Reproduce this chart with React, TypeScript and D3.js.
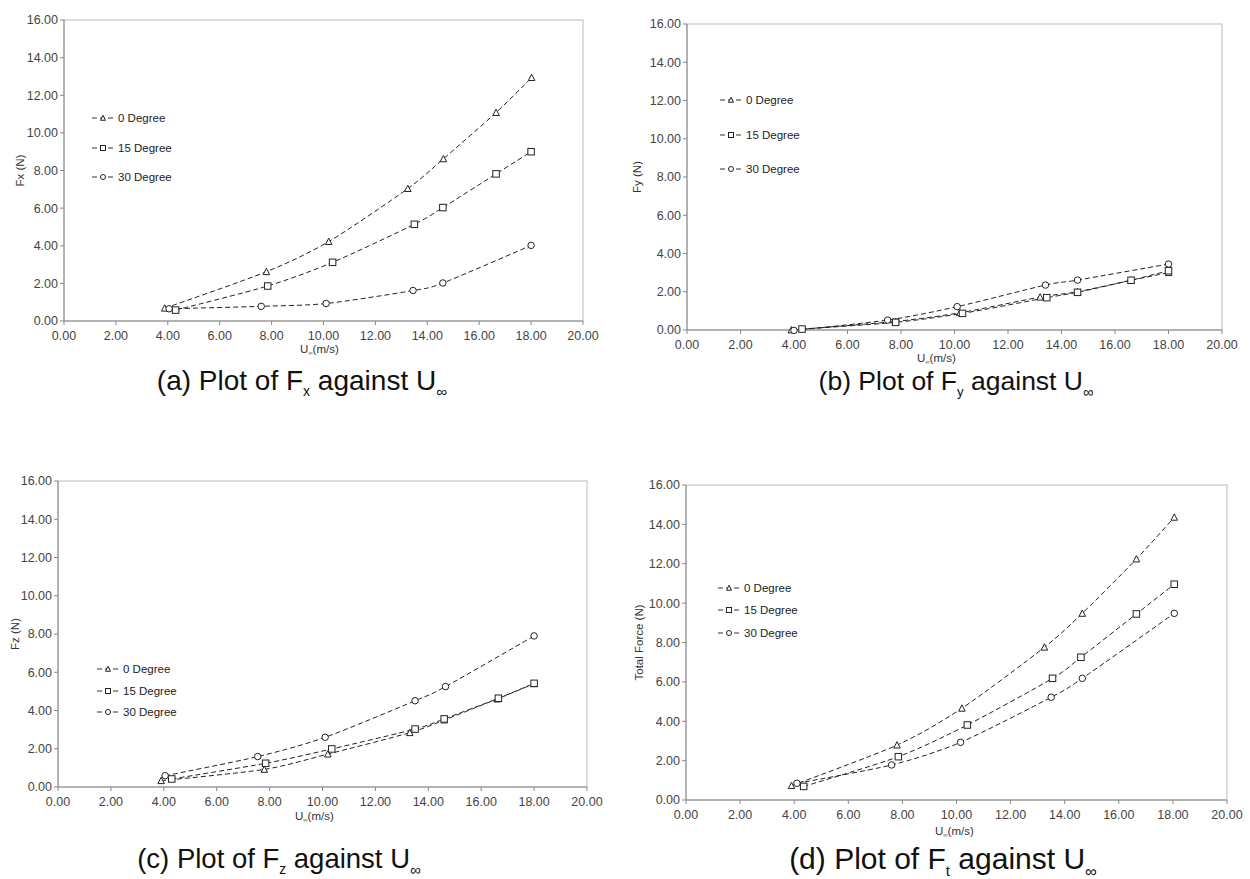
import React from "react";
import * as d3 from "d3";

// ---------- data ----------
const seriesNames = ["0 Degree", "15 Degree", "30 Degree"];
const xTicks = [0, 2, 4, 6, 8, 10, 12, 14, 16, 18, 20];
const yTicks = [0, 2, 4, 6, 8, 10, 12, 14, 16];

// (a) Fx
const aX0 = [3.88, 7.8, 10.2, 13.25, 14.62, 16.65, 18.02];
const aY0 = [0.68, 2.62, 4.22, 7.04, 8.62, 11.08, 12.94];
const aX15 = [4.3, 7.85, 10.35, 13.5, 14.6, 16.65, 18.0];
const aY15 = [0.58, 1.86, 3.12, 5.14, 6.03, 7.82, 9.0];
const aX30 = [4.05, 7.6, 10.1, 13.45, 14.6, 18.0];
const aY30 = [0.65, 0.78, 0.93, 1.62, 2.02, 4.02];

// (b) Fy
const bX0 = [3.9, 7.8, 10.2, 13.2, 14.6, 16.6, 18.0];
const bY0 = [0.0, 0.45, 0.9, 1.72, 2.0, 2.6, 3.0];
const bX15 = [4.3, 7.8, 10.3, 13.45, 14.6, 16.6, 18.0];
const bY15 = [0.05, 0.4, 0.87, 1.69, 1.97, 2.6, 3.1];
const bX30 = [4.0, 7.5, 10.1, 13.4, 14.6, 18.0];
const bY30 = [-0.02, 0.52, 1.22, 2.35, 2.61, 3.45];

// (c) Fz
const cX0 = [3.9, 7.8, 10.2, 13.3, 14.6, 16.6, 18.0];
const cY0 = [0.33, 0.92, 1.72, 2.84, 3.5, 4.6, 5.4];
const cX15 = [4.3, 7.85, 10.35, 13.5, 14.6, 16.65, 18.0];
const cY15 = [0.42, 1.24, 1.99, 3.03, 3.56, 4.64, 5.42];
const cX30 = [4.05, 7.55, 10.1, 13.5, 14.65, 18.0];
const cY30 = [0.59, 1.59, 2.6, 4.51, 5.25, 7.9];

// (d) Total force
const dX0 = [3.9, 7.8, 10.2, 13.25, 14.65, 16.65, 18.05];
const dY0 = [0.73, 2.79, 4.66, 7.76, 9.48, 12.24, 14.36];
const dX15 = [4.35, 7.85, 10.4, 13.55, 14.6, 16.65, 18.05];
const dY15 = [0.69, 2.2, 3.81, 6.18, 7.25, 9.45, 10.96];
const dX30 = [4.1, 7.6, 10.15, 13.5, 14.65, 18.05];
const dY30 = [0.85, 1.78, 2.93, 5.22, 6.18, 9.48];

type Pt = { x: number; y: number };
const zip = (xs: number[], ys: number[]): Pt[] => xs.map((x, i) => ({ x, y: ys[i] }));

const FONT = "Liberation Sans, Arial, sans-serif";

function Marker({ kind, x, y, s }: { kind: number; x: number; y: number; s: number }) {
  const common = { fill: "white", stroke: "#222", strokeWidth: 1 };
  if (kind === 0) {
    const h = s * 0.9;
    return (
      <path
        d={`M${x},${y - h / 2 - 0.5} L${x + s / 2},${y + h / 2} L${x - s / 2},${y + h / 2} Z`}
        {...common}
      />
    );
  }
  if (kind === 1) return <rect x={x - s / 2} y={y - s / 2} width={s} height={s} {...common} />;
  return <circle cx={x} cy={y} r={s / 2} {...common} />;
}

type PanelProps = {
  left: number;
  right: number;
  top: number;
  bottom: number;
  series: Pt[][];
  yTitle: string;
  legendX: number;
  legendY: number[];
  xTitleX: number;
  xTitleY: number;
  yTitleX: number;
  tickLabelDy: number;
};

function Panel(p: PanelProps) {
  const x = d3.scaleLinear().domain([0, 20]).range([p.left, p.right]);
  const y = d3.scaleLinear().domain([0, 16]).range([p.bottom, p.top]);
  const line = d3
    .line<Pt>()
    .x((d) => x(d.x))
    .y((d) => y(d.y))
    .curve(d3.curveCardinal.tension(0.2));
  return (
    <g>
      <rect x={p.left} y={p.top} width={p.right - p.left} height={p.bottom - p.top} fill="white" stroke="#bbb" strokeWidth={1} />
      <line x1={p.left} x2={p.left} y1={p.top} y2={p.bottom} stroke="#888" />
      <line x1={p.left} x2={p.right} y1={p.bottom} y2={p.bottom} stroke="#888" />
      {yTicks.map((t) => (
        <g key={"y" + t}>
          <line x1={p.left - 4} x2={p.left} y1={y(t)} y2={y(t)} stroke="#888" />
          <text x={p.left - 6} y={y(t)} dy="0.35em" textAnchor="end" fontSize={12.5} fill="#444" fontFamily={FONT}>
            {t.toFixed(2)}
          </text>
        </g>
      ))}
      {xTicks.map((t) => (
        <g key={"x" + t}>
          <line x1={x(t)} x2={x(t)} y1={p.bottom} y2={p.bottom + 4} stroke="#888" />
          <text x={x(t)} y={p.bottom + p.tickLabelDy} textAnchor="middle" fontSize={12.5} fill="#444" fontFamily={FONT}>
            {t.toFixed(2)}
          </text>
        </g>
      ))}
      <text x={p.xTitleX} y={p.xTitleY} fontSize={11.5} fill="#333" fontFamily={FONT}>
        U
        <tspan fontSize={6} dy={2}>∞</tspan>
        <tspan dy={-2}>(m/s)</tspan>
      </text>
      <text
        transform={`translate(${p.yTitleX},${(p.top + p.bottom) / 2}) rotate(-90)`}
        textAnchor="middle"
        fontSize={11.5}
        fill="#333"
        fontFamily={FONT}
      >
        {p.yTitle}
      </text>
      {p.series.map((s, i) => (
        <path key={"l" + i} d={line(s) || ""} fill="none" stroke="#222" strokeWidth={1} strokeDasharray="5,3" />
      ))}
      {p.series.map((s, i) =>
        s.map((d, j) => <Marker key={"m" + i + "-" + j} kind={i} x={x(d.x)} y={y(d.y)} s={6.5} />)
      )}
      {seriesNames.map((n, i) => (
        <g key={"lg" + i}>
          <line x1={p.legendX} x2={p.legendX + 22} y1={p.legendY[i]} y2={p.legendY[i]} stroke="#333" strokeDasharray="5,3" />
          <Marker kind={i} x={p.legendX + 11} y={p.legendY[i]} s={5} />
          <text x={p.legendX + 26} y={p.legendY[i]} dy="0.35em" fontSize={11.5} fill="#222" fontFamily={FONT}>
            {n}
          </text>
        </g>
      ))}
    </g>
  );
}

function Caption({ cx, y, letter, sub, size }: { cx: number; y: number; letter: string; sub: string; size: number }) {
  return (
    <text x={cx} y={y} textAnchor="middle" fontSize={size} fill="#111" fontFamily={FONT}>
      {letter}Plot of F
      <tspan fontSize={size * 0.5} dy={size * 0.22}>{sub}</tspan>
      <tspan dy={-size * 0.22}> against U</tspan>
      <tspan fontSize={size * 0.55} dy={size * 0.25}>∞</tspan>
    </text>
  );
}

export default function App() {
  return (
    <svg width={1250} height={879} style={{ position: "absolute", left: 0, top: 0, background: "white" }}>
      <rect width={1250} height={879} fill="white" />
      <Panel
        left={64} right={583} top={20} bottom={321}
        series={[zip(aX0, aY0), zip(aX15, aY15), zip(aX30, aY30)]}
        yTitle="Fx (N)" legendX={92} legendY={[118, 148, 177]}
        xTitleX={300} xTitleY={353} yTitleX={24} tickLabelDy={19}
      />
      <Panel
        left={687} right={1222} top={24} bottom={330}
        series={[zip(bX0, bY0), zip(bX15, bY15), zip(bX30, bY30)]}
        yTitle="Fy (N)" legendX={720} legendY={[100, 135, 169]}
        xTitleX={917} xTitleY={362} yTitleX={641} tickLabelDy={19}
      />
      <Panel
        left={58} right={587} top={481} bottom={787}
        series={[zip(cX0, cY0), zip(cX15, cY15), zip(cX30, cY30)]}
        yTitle="Fz (N)" legendX={97} legendY={[669, 691, 712]}
        xTitleX={295} xTitleY={820} yTitleX={19} tickLabelDy={19}
      />
      <Panel
        left={686} right={1227} top={485} bottom={800}
        series={[zip(dX0, dY0), zip(dX15, dY15), zip(dX30, dY30)]}
        yTitle="Total Force (N)" legendX={718} legendY={[588, 610, 633]}
        xTitleX={935} xTitleY={835} yTitleX={643} tickLabelDy={19}
      />
      <Caption cx={302} y={390} letter="(a) " sub="x" size={28} />
      <Caption cx={956} y={390} letter="(b) " sub="y" size={26.5} />
      <Caption cx={279} y={868} letter="(c) " sub="z" size={27.5} />
      <Caption cx={943} y={869} letter="(d)  " sub="t" size={30} />
    </svg>
  );
}
